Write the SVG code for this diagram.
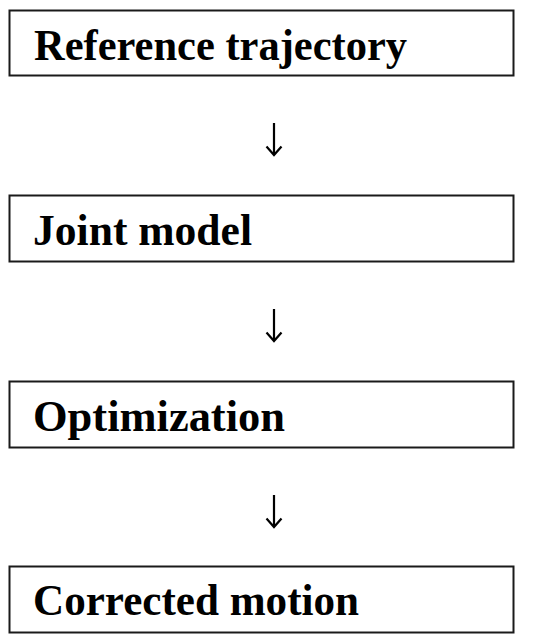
<svg xmlns="http://www.w3.org/2000/svg" width="550" height="642" viewBox="0 0 550 642">
<style>
.box{fill:#fff;stroke:#1a1a1a;stroke-width:2}
.lbl{font-family:"Liberation Serif","Times New Roman",serif;font-weight:bold;font-size:44px;fill:#000}
.arr{stroke:#000;stroke-width:2.2;fill:none}
</style>
<rect width="550" height="642" fill="#fff"/>
<g id="node-reference">
<rect class="box" x="9.5" y="10.5" width="504" height="65"/>
<text class="lbl" x="34" y="60" textLength="373" lengthAdjust="spacingAndGlyphs">Reference trajectory</text>
</g>
<g id="node-joint">
<rect class="box" x="9.5" y="195.5" width="504" height="66"/>
<text class="lbl" x="33" y="245" textLength="219" lengthAdjust="spacingAndGlyphs">Joint model</text>
</g>
<g id="node-optimization">
<rect class="box" x="9.5" y="381.5" width="504" height="66"/>
<text class="lbl" x="33" y="431" textLength="252" lengthAdjust="spacingAndGlyphs">Optimization</text>
</g>
<g id="node-corrected">
<rect class="box" x="9.5" y="566.5" width="504" height="66"/>
<text class="lbl" x="33" y="615" textLength="326" lengthAdjust="spacingAndGlyphs">Corrected motion</text>
</g>
<g id="connectors">
<path class="arr" d="M274 123 V155 M266.5 146.5 L274 155 L281.5 146.5"/>
<path class="arr" d="M274 309 V341 M266.5 332.5 L274 341 L281.5 332.5"/>
<path class="arr" d="M274 495 V527 M266.5 518.5 L274 527 L281.5 518.5"/>
</g>
</svg>
